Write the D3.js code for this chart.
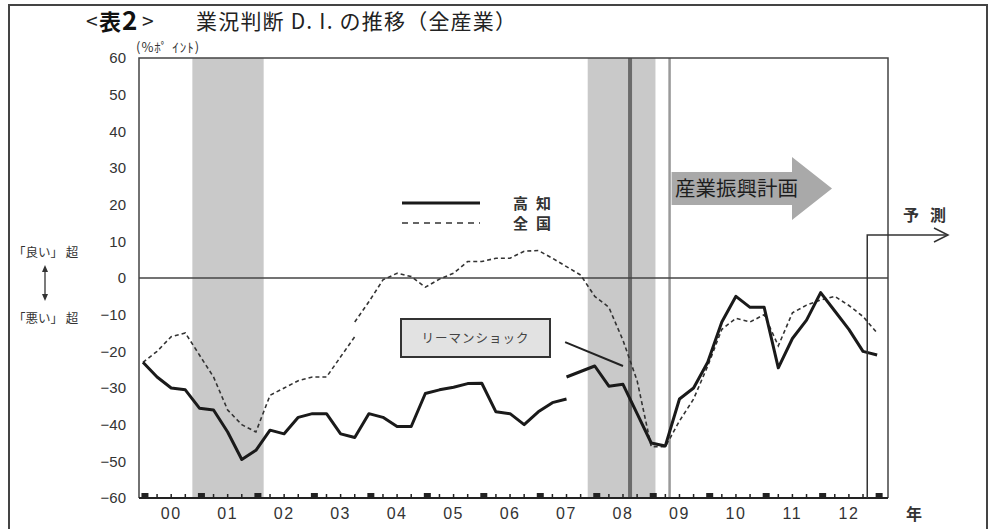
<!DOCTYPE html>
<html lang="ja">
<head>
<meta charset="utf-8">
<script src="https://cdn.jsdelivr.net/npm/d3@7"></script>
<style>
  html, body { margin: 0; padding: 0; background: #fff; }
  svg { display: block; }
  .jp { font-family: "Noto Sans CJK JP", "Noto Sans", sans-serif; }
  .num { font-family: "Liberation Sans", Arial, sans-serif; }
</style>
</head>
<body>
<svg id="chart" width="989" height="529"></svg>
<script>
// 業況判断D.I.（全産業）四半期データ, index 0 = 2000年第1期
const yearLabels = ["00","01","02","03","04","05","06","07","08","09","10","11","12"];
const yTicks = [60, 50, 40, 30, 20, 10, 0, -10, -20, -30, -40, -50, -60];

// 高知: 旧系列 (期0〜30) と新系列 (期30〜52)
const kochiOld = [-23, -27, -30, -30.5, -35.5, -36, -42, -49.5, -47, -41.5, -42.5, -38, -37, -37,
  -42.5, -43.5, -37, -38, -40.5, -40.5, -31.5, -30.5, -29.8, -28.8, -28.7, -36.5, -37, -40, -36.5, -34, -33];
const kochiNewStart = 30;
const kochiNew = [-27, -25.5, -24, -29.5, -29, -37, -45, -45.8, -33, -30, -23, -12, -5, -8, -8,
  -24.5, -16.5, -11.5, -4, -9, -14, -20, -21];

// 全国: 旧系列 (期0〜15) と新系列 (期15〜52)
const nationalOld = [-23, -20, -16, -15, -21, -27, -36, -40, -42, -32, -30, -28, -27, -27, -21.5, -16];
const nationalNewStart = 15;
const nationalNew = [-12, -6.5, -0.5, 1.3, 0.4, -2.5, -0.3, 1.3, 4.5, 4.5, 5.4, 5.4, 7.3, 7.5, 5.4, 3.1,
  0.8, -5, -8, -17, -28, -46, -46, -39, -33, -24, -14, -11, -12, -10, -18.5, -9.5, -7.4, -6, -5, -7.5, -10.5, -15];

// 景気後退期 (期の位置)
const recessions = [[3.5, 8.55], [31.5, 36.3]];
const lehmanLine = 34.5;     // リーマンショック
const planStart = 37.3;      // 産業振興計画の開始
const forecastStart = 51.3;  // 予測の開始
const lehmanPointer = [[29.9, -17.5], [34.0, -24]];

const svg = d3.select("#chart");
const pL = 139, pR = 888, pT = 58, pB = 498;
const x = d3.scaleLinear().domain([-0.28, 52.77]).range([pL, pR]);
const y = d3.scaleLinear().domain([-60, 60]).range([pB, pT]);

// outer frame
svg.append("path")
  .attr("d", "M9,540 L9,5 L987,5 L987,540")
  .attr("fill", "none").attr("stroke", "#444").attr("stroke-width", 2);

// title
svg.append("text").attr("class", "jp").attr("x", 86).attr("y", 29).attr("font-size", 21).attr("fill", "#222").text("<");
const tb = svg.append("text").attr("class", "jp").attr("x", 99).attr("y", 30).attr("font-weight", "bold").attr("fill", "#111");
tb.append("tspan").attr("font-size", 22).text("表");
tb.append("tspan").attr("font-size", 26).attr("dx", 1).text("2");
svg.append("text").attr("class", "jp").attr("x", 142).attr("y", 29).attr("font-size", 21).attr("fill", "#222").text(">");
svg.append("text").attr("class", "jp").attr("x", 196).attr("y", 29).attr("font-size", 21)
  .attr("letter-spacing", 1.2).attr("fill", "#222")
  .text("業況判断 D. I. の推移（全産業）");

// unit
svg.append("text").attr("class", "jp").attr("x", 136).attr("y", 52).attr("font-size", 13).attr("fill", "#333")
  .attr("letter-spacing", 1).text("(%ﾎﾟ ｲﾝﾄ)");

// shaded recession bands
svg.append("g").selectAll("rect").data(recessions).join("rect")
  .attr("x", d => x(d[0])).attr("width", d => x(d[1]) - x(d[0]))
  .attr("y", pT).attr("height", pB - pT)
  .attr("fill", "#c9c9c9");

// vertical markers
svg.append("line").attr("x1", x(lehmanLine)).attr("x2", x(lehmanLine)).attr("y1", pT).attr("y2", pB)
  .attr("stroke", "#6b6b6b").attr("stroke-width", 4);
svg.append("line").attr("x1", x(planStart)).attr("x2", x(planStart)).attr("y1", pT).attr("y2", pB)
  .attr("stroke", "#9a9a9a").attr("stroke-width", 2.5);

// plot frame
svg.append("path")
  .attr("d", `M${pL},${pB} L${pL},${pT} L${pR},${pT} L${pR},${pB}`)
  .attr("fill", "none").attr("stroke", "#444").attr("stroke-width", 1.5);

// zero line
svg.append("line").attr("x1", pL).attr("x2", pR).attr("y1", y(0)).attr("y2", y(0))
  .attr("stroke", "#444").attr("stroke-width", 1.5);

// y axis labels
const yAxis = d3.axisLeft(y).tickValues(yTicks).tickSize(0).tickPadding(13).tickFormat(d3.format("d"));
const gy = svg.append("g").attr("transform", `translate(${pL},0)`).call(yAxis);
gy.select(".domain").remove();
gy.selectAll("text").attr("font-size", 15).attr("fill", "#333")
  .style("font-family", '"Liberation Sans", Arial, sans-serif')
  .text(d => d < 0 ? "\u2212" + Math.abs(d) : d);

// x axis: quarter ticks, year squares, year labels
const quarterIdx = d3.range(0, yearLabels.length * 4 + 1);
const gx = svg.append("g");
gx.append("line").attr("x1", pL).attr("x2", pR).attr("y1", pB).attr("y2", pB)
  .attr("stroke", "#222").attr("stroke-width", 2);
gx.selectAll("line.q").data(quarterIdx.filter(i => i % 4 !== 0)).join("line").attr("class", "q")
  .attr("x1", d => x(d)).attr("x2", d => x(d)).attr("y1", pB - 4).attr("y2", pB + 1)
  .attr("stroke", "#222").attr("stroke-width", 1.5);
gx.selectAll("rect").data(quarterIdx.filter(i => i % 4 === 0)).join("rect")
  .attr("x", d => x(d) + 2 - 3.5).attr("y", pB - 5).attr("width", 7).attr("height", 6)
  .attr("fill", "#222");
gx.selectAll("text").data(yearLabels).join("text").attr("class", "num")
  .attr("x", (d, k) => x(k * 4 + 2)).attr("y", 519).attr("text-anchor", "middle")
  .attr("font-size", 16).attr("letter-spacing", 1.5).attr("fill", "#333").text(d => d);
svg.append("text").attr("class", "jp").attr("x", 906).attr("y", 520).attr("font-size", 16)
  .attr("font-weight", "bold").attr("fill", "#333").text("年");

// side notes
svg.append("text").attr("class", "jp").attr("x", 13).attr("y", 257).attr("font-size", 12.5).attr("fill", "#333")
  .text("「良い」 超");
svg.append("text").attr("class", "jp").attr("x", 13).attr("y", 323).attr("font-size", 12.5).attr("fill", "#333")
  .text("「悪い」 超");
svg.append("line").attr("x1", 45).attr("x2", 45).attr("y1", 268).attr("y2", 298).attr("stroke", "#333").attr("stroke-width", 1.3);
svg.append("path").attr("d", "M42,272 L45,265 L48,272 Z M42,294 L45,301 L48,294 Z").attr("fill", "#333");

// series
const line = d3.line().x(d => x(d[0])).y(d => y(d[1]));
const pts = (arr, start) => arr.map((v, i) => [start + i, v]);

svg.append("path").datum(pts(nationalOld, 0)).attr("d", line)
  .attr("fill", "none").attr("stroke", "#333").attr("stroke-width", 1.6).attr("stroke-dasharray", "4,3");
svg.append("path").datum(pts(nationalNew, nationalNewStart)).attr("d", line)
  .attr("fill", "none").attr("stroke", "#333").attr("stroke-width", 1.6).attr("stroke-dasharray", "4,3");
svg.append("path").datum(pts(kochiOld, 0)).attr("d", line)
  .attr("fill", "none").attr("stroke", "#1a1a1a").attr("stroke-width", 3).attr("stroke-linejoin", "round");
svg.append("path").datum(pts(kochiNew, kochiNewStart)).attr("d", line)
  .attr("fill", "none").attr("stroke", "#1a1a1a").attr("stroke-width", 3).attr("stroke-linejoin", "round");

// legend
svg.append("line").attr("x1", 402).attr("x2", 480).attr("y1", 203).attr("y2", 203)
  .attr("stroke", "#1a1a1a").attr("stroke-width", 3);
svg.append("line").attr("x1", 402).attr("x2", 480).attr("y1", 223).attr("y2", 223)
  .attr("stroke", "#333").attr("stroke-width", 1.6).attr("stroke-dasharray", "6,5");
svg.append("text").attr("class", "jp").attr("x", 513).attr("y", 208.5).attr("font-size", 15)
  .attr("font-weight", "bold").attr("letter-spacing", 8).attr("fill", "#333").text("高知");
svg.append("text").attr("class", "jp").attr("x", 513).attr("y", 228.5).attr("font-size", 15)
  .attr("font-weight", "bold").attr("letter-spacing", 8).attr("fill", "#333").text("全国");

// Lehman shock callout
svg.append("rect").attr("x", 401).attr("y", 319).attr("width", 149).attr("height", 38)
  .attr("fill", "#e2e2e2").attr("stroke", "#333").attr("stroke-width", 2);
svg.append("text").attr("class", "jp").attr("x", 475.5).attr("y", 343).attr("text-anchor", "middle")
  .attr("font-size", 12.5).attr("letter-spacing", 1).attr("fill", "#444").text("リーマンショック");
svg.append("path").datum(lehmanPointer).attr("d", line)
  .attr("fill", "none").attr("stroke", "#222").attr("stroke-width", 2);

// industry promotion plan arrow
const ax0 = x(planStart) + 2, ay = 188.5;
svg.append("path")
  .attr("d", `M${ax0},${ay - 16.5} L792,${ay - 16.5} L792,${ay - 31.5} L832,${ay} L792,${ay + 31.5} L792,${ay + 16.5} L${ax0},${ay + 16.5} Z`)
  .attr("fill", "#a9a9a9");
svg.append("text").attr("class", "jp").attr("x", 675).attr("y", 196).attr("font-size", 20.5)
  .attr("fill", "#1e1e1e").text("産業振興計画");

// forecast marker
const fx = x(forecastStart);
svg.append("path").attr("d", `M${fx},${pB} L${fx},235 L948,235`)
  .attr("fill", "none").attr("stroke", "#333").attr("stroke-width", 1.5);
svg.append("path").attr("d", "M934,228 L948,235 L934,242")
  .attr("fill", "none").attr("stroke", "#333").attr("stroke-width", 1.5);
svg.append("text").attr("class", "jp").attr("x", 903).attr("y", 221).attr("font-size", 16)
  .attr("font-weight", "bold").attr("letter-spacing", 11).attr("fill", "#333").text("予測");
</script>
</body>
</html>
